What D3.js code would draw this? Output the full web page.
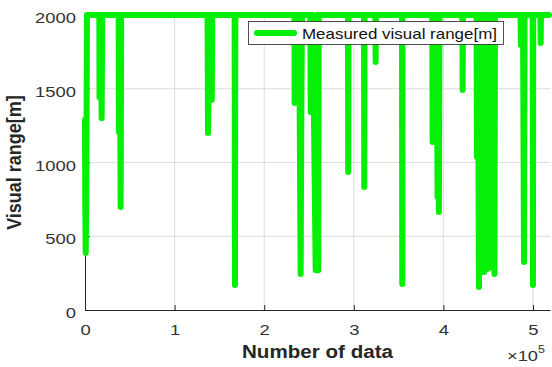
<!DOCTYPE html>
<html>
<head>
<meta charset="utf-8">
<script src="https://cdn.jsdelivr.net/npm/d3@7"></script>
<style>
  body { margin: 0; background: #fff; }
  text { font-family: "Liberation Sans", Arial, sans-serif; }
</style>
</head>
<body>
<div id="canvas"></div>
<script>
// sample index and measured visual range [m]
const sampleIdx = [
  0, 300, 800, 1400, 2200,
  16000, 16200, 17400, 18600, 19200,
  37600, 37800, 38900, 39800, 40400,
  136800, 137300, 138500, 139600, 140700, 141500, 142000,
  167000, 167400, 167800,
  233800, 234000, 236000, 237500, 239000, 240700, 241500, 242200,
  251600, 251900, 253800, 255500, 257500, 259000, 260300, 260900,
  293500, 293800, 294100,
  311400, 311700, 312000,
  324100, 324400, 324700,
  353800, 354100, 354400,
  387600, 388000, 389800, 391400, 392700, 393500, 394300, 395000, 395600,
  421200, 421500, 421800,
  437000, 437500, 438600, 439700, 440900, 442000, 443200, 444300, 445300, 446400,
  447500, 448600, 449800, 450900, 452000, 453200, 454500, 455800, 457000, 457600,
  486200, 486500, 487800, 489000, 490000, 490600,
  499700, 500000, 500300,
  508300, 508600, 508900,
  518000
];
const visRange = [
  1290, 700, 386, 712, 2000,
  2000, 1440, 2000, 1300, 2000,
  2000, 1207, 2000, 698, 2000,
  2000, 1200, 2000, 1424, 2000, 1424, 2000,
  2000, 170, 2000,
  2000, 1403, 2000, 1403, 2000, 244, 1403, 2000,
  2000, 1342, 2000, 1342, 270, 2000, 270, 2000,
  2000, 936, 2000,
  2000, 834, 2000,
  2000, 1681, 2000,
  2000, 176, 2000,
  2000, 1139, 2000, 1139, 2000, 766, 2000, 664, 2000,
  2000, 1492, 2000,
  2000, 1037, 2000, 156, 2000, 270, 2000, 258, 258, 2000,
  300, 2000, 280, 2000, 290, 2000, 300, 2000, 244, 2000,
  2000, 1797, 2000, 1797, 325, 2000,
  2000, 170, 2000,
  2000, 1810, 2000,
  2000
];
const xTicks = [0, 1e5, 2e5, 3e5, 4e5, 5e5];
const yTicks = [0, 500, 1000, 1500, 2000];
const xLabel = "Number of data";
const yLabel = "Visual range[m]";
const legendLabel = "Measured visual range[m]";

const width = 552, height = 367;
const margin = { top: 15, left: 85, bottom: 57, right: 2 };
const iwidth = width - margin.left - margin.right;
const iheight = height - margin.top - margin.bottom;
const green = "#06ef06";
const axisCol = "#262626";

const svg = d3.select("#canvas").append("svg")
  .attr("width", width).attr("height", height);

const g = svg.append("g").attr("transform", `translate(${margin.left},${margin.top})`);

const x = d3.scaleLinear().domain([0, 519000]).range([0, iwidth]);
const y = d3.scaleLinear().domain([0, 2000]).range([iheight, 0]);

// grid
g.append("g").selectAll("line").data(xTicks.slice(1)).enter().append("line")
  .attr("x1", d => x(d)).attr("x2", d => x(d))
  .attr("y1", 0).attr("y2", iheight)
  .attr("stroke", "#dcdcdc").attr("stroke-width", 1);
g.append("g").selectAll("line").data(yTicks.slice(1, -1)).enter().append("line")
  .attr("x1", 0).attr("x2", iwidth)
  .attr("y1", d => y(d)).attr("y2", d => y(d))
  .attr("stroke", "#dcdcdc").attr("stroke-width", 1);

// axes
const xAxis = g.append("g")
  .attr("transform", `translate(0,${iheight})`)
  .call(d3.axisBottom(x).tickValues(xTicks).tickFormat(d => d / 1e5)
    .tickSizeInner(-5).tickSizeOuter(0).tickPadding(14));
const yAxis = g.append("g")
  .call(d3.axisLeft(y).tickValues(yTicks).tickFormat(d3.format("d"))
    .tickSizeInner(-5).tickSizeOuter(0).tickPadding(9));

[xAxis, yAxis].forEach(a => {
  a.select(".domain").attr("stroke", axisCol);
  a.selectAll(".tick line").attr("stroke", axisCol);
  a.selectAll(".tick text")
    .attr("fill", "#333")
    .style("font-size", "15px")
    .attr("font-family", null)
    .attr("textLength", function() { return this.textContent.length * 10.25; })
    .attr("lengthAdjust", "spacingAndGlyphs");
});
yAxis.selectAll(".tick text").attr("dy", "0.5em");

// series
const pts = sampleIdx.map((s, i) => [s, visRange[i]]);
const line = d3.line().x(d => x(d[0])).y(d => y(d[1]));
g.append("path").datum(pts)
  .attr("d", line)
  .attr("fill", "none")
  .attr("stroke", green)
  .attr("stroke-width", 6)
  .attr("stroke-linejoin", "round")
  .attr("stroke-linecap", "round");

// axis labels
svg.append("text")
  .attr("x", margin.left + iwidth / 2).attr("y", 358)
  .attr("text-anchor", "middle")
  .style("font-size", "18px").style("font-weight", "bold")
  .attr("fill", "#262626")
  .attr("textLength", 151).attr("lengthAdjust", "spacingAndGlyphs")
  .text(xLabel);

svg.append("text")
  .attr("transform", `translate(21,${margin.top + iheight / 2}) scale(1.17,1) rotate(-90)`)
  .attr("text-anchor", "middle")
  .style("font-size", "18px").style("font-weight", "bold")
  .attr("fill", "#262626")
  .text(yLabel);

// x10^5 exponent
svg.append("text")
  .attr("x", 507).attr("y", 361)
  .style("font-size", "15px").attr("fill", "#333")
  .attr("textLength", 31).attr("lengthAdjust", "spacingAndGlyphs")
  .text("\u00d710");
svg.append("text")
  .attr("x", 538).attr("y", 353)
  .style("font-size", "11px").attr("fill", "#333")
  .attr("textLength", 7).attr("lengthAdjust", "spacingAndGlyphs")
  .text("5");

// legend
const lg = svg.append("g");
lg.append("rect")
  .attr("x", 248.5).attr("y", 21.5).attr("width", 255).attr("height", 23)
  .attr("fill", "#fff").attr("stroke", axisCol).attr("stroke-width", 0.8);
lg.append("line")
  .attr("x1", 257).attr("x2", 294).attr("y1", 33).attr("y2", 33)
  .attr("stroke", green).attr("stroke-width", 6).attr("stroke-linecap", "round");
lg.append("text")
  .attr("x", 302).attr("y", 39)
  .style("font-size", "15px").attr("fill", "#111")
  .attr("textLength", 195).attr("lengthAdjust", "spacingAndGlyphs")
  .text(legendLabel);
</script>
</body>
</html>
